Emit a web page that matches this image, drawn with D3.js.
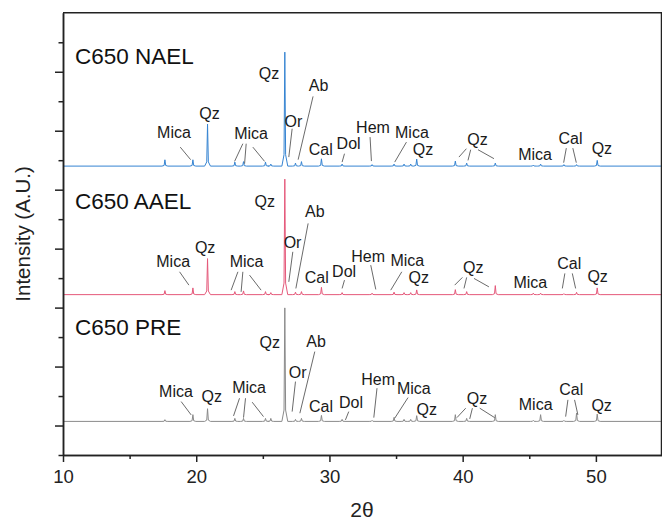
<!DOCTYPE html>
<html>
<head>
<meta charset="utf-8">
<script src="https://cdn.jsdelivr.net/npm/d3@7"></script>
<style>
  body { margin: 0; background: #fff; }
  svg { display: block; font-family: "Liberation Sans", Arial, sans-serif; }
</style>
</head>
<body>
<svg id="chart" width="662" height="520"></svg>
<script>
// --- data ----------------------------------------------------------------
var sampleNames = ["C650 NAEL", "C650 AAEL", "C650 PRE"];

// peak positions, 2-theta (deg)
var peakPos = [17.65, 19.75, 20.85, 22.9, 23.55, 25.2, 25.6, 26.65, 27.45, 27.9,
  29.4, 30.95, 33.2, 34.85, 35.6, 36.1, 36.55, 39.45, 40.3, 42.45,
  45.3, 45.85, 47.6, 48.55, 50.1];

// peak heights above each pattern's own background (counts, A.U.)
var naelHeights = [107, 107, 712, 68, 76, 68, 34, 1933, 51, 76,
  124, 34, 25, 34, 34, 34, 119, 85, 51, 51,
  17, 34, 25, 25, 97];
var aaelHeights = [68, 114, 611, 51, 63, 51, 34, 1959, 42, 51,
  124, 34, 25, 42, 34, 34, 80, 85, 51, 153,
  25, 25, 17, 39, 114];
var preHeights = [29, 114, 215, 51, 51, 51, 51, 1925, 34, 51,
  102, 34, 17, 68, 34, 34, 97, 114, 51, 114,
  17, 114, 17, 141, 124];

var xTicks = [10, 20, 30, 40, 50];

// phase labels: [text, 2theta of label centre, height of label above background,
//                leader lines [from 2theta, from height, to 2theta, to height]]
var naelLabels = [
  ["Mica", 18.33, 475, [[18.80, 322, 19.58, 109]]],
  ["Qz", 21.0, 792, []],
  ["Mica", 24.12, 465, [[23.5, 380, 22.88, 80], [23.75, 380, 23.63, 41], [24.25, 322, 25.13, 80]]],
  ["Qz", 25.47, 1482, []],
  ["Or", 27.3, 665, [[27.2, 634, 26.95, 153]]],
  ["Ab", 29.19, 1272, [[28.77, 1182, 27.65, 109]]],
  ["Cal", 29.35, 193, []],
  ["Dol", 31.44, 295, [[31.13, 210, 30.95, 68]]],
  ["Hem", 33.27, 566, [[33.05, 492, 33.15, 85]]],
  ["Mica", 36.19, 482, [[35.78, 407, 34.9, 68]]],
  ["Qz", 37.02, 181, []],
  ["Qz", 41.11, 363, [[40.28, 295, 39.72, 153], [40.6, 278, 40.4, 97], [41.15, 278, 42.35, 126]]],
  ["Mica", 45.44, 109, []],
  ["Cal", 48.1, 380, [[47.78, 305, 47.58, 58], [48.27, 305, 48.53, 58]]],
  ["Qz", 50.45, 210, []]
];
var aaelLabels = [
  ["Mica", 18.27, 471, [[18.75, 387, 19.45, 161]]],
  ["Qz", 20.67, 699, []],
  ["Mica", 23.78, 471, [[23.13, 387, 22.62, 76], [23.5, 387, 23.37, 47], [24.0, 331, 24.87, 76]]],
  ["Qz", 25.15, 1489, []],
  ["Or", 27.23, 784, [[27.25, 726, 26.95, 217]]],
  ["Ab", 28.9, 1319, [[28.4, 1208, 27.48, 105]]],
  ["Cal", 29.05, 190, []],
  ["Dol", 31.1, 302, [[31.13, 246, 30.95, 105]]],
  ["Hem", 32.9, 556, [[33.1, 500, 33.48, 88]]],
  ["Mica", 35.85, 483, [[35.43, 387, 34.6, 76]]],
  ["Qz", 36.7, 190, []],
  ["Qz", 40.8, 370, [[39.98, 292, 39.4, 161], [40.3, 292, 40.1, 105], [40.85, 275, 41.97, 132]]],
  ["Mica", 45.08, 105, []],
  ["Cal", 48.0, 427, [[47.67, 360, 47.48, 105], [48.23, 360, 48.48, 105]]],
  ["Qz", 50.13, 217, []]
];
var preLabels = [
  ["Mica", 18.48, 421, [[18.87, 336, 19.62, 110]]],
  ["Qz", 21.16, 336, []],
  ["Mica", 23.97, 478, [[23.25, 393, 22.8, 93], [23.7, 393, 23.55, 64], [24.2, 326, 25.05, 81]]],
  ["Qz", 25.52, 1241, []],
  ["Or", 27.62, 743, [[27.45, 675, 27.2, 166]]],
  ["Ab", 29.0, 1269, [[28.9, 1184, 27.78, 139]]],
  ["Cal", 29.37, 166, []],
  ["Dol", 31.62, 224, [[31.45, 166, 31.2, 25]]],
  ["Hem", 33.65, 619, [[33.57, 563, 33.33, 64]]],
  ["Mica", 36.33, 461, [[35.9, 404, 34.9, 54]]],
  ["Qz", 37.3, 110, []],
  ["Qz", 41.07, 292, [[40.23, 224, 39.57, 64], [40.73, 224, 40.53, 42], [41.28, 224, 42.4, 64]]],
  ["Mica", 45.48, 195, []],
  ["Cal", 48.15, 449, [[47.9, 365, 47.73, 81], [48.4, 365, 48.65, 110]]],
  ["Qz", 50.43, 178, []]
];

(function(){
  // --- layout / style ----------------------------------------------------
  var offsets = [4900, 2720, 570];           // vertical stacking of the patterns
  var nameHeights = [1737, 1445, 1467];      // sample name above its background
  var colors = ["#3584d2", "#e5587a", "#8a8a8a"];
  var peakShape = [[-0.22, 0], [-0.06, 0.1], [0, 1], [0.06, 0.1], [0.22, 0]];

  var series = [
    {name: sampleNames[0], h: naelHeights, labels: naelLabels},
    {name: sampleNames[1], h: aaelHeights, labels: aaelLabels},
    {name: sampleNames[2], h: preHeights, labels: preLabels}
  ];

  var svg = d3.select("#chart");
  var mLeft = 63, mRight = 662.5, mTop = 12.8, mBottom = 455;

  var x = d3.scaleLinear().domain([10, 55]).range([mLeft, mRight]);
  var y = d3.scaleLinear().domain([0, 7500]).range([mBottom, mTop]);

  // patterns
  var line = d3.line().x(function(d){ return x(d[0]); }).y(function(d){ return y(d[1]); });

  series.forEach(function(s, i){
    var pts = [[10, offsets[i]]];
    peakPos.forEach(function(p, k){
      peakShape.forEach(function(v){
        pts.push([p + v[0], offsets[i] + v[1]*s.h[k]]);
      });
    });
    pts.push([55, offsets[i]]);
    svg.append("path")
      .attr("d", line(pts))
      .attr("fill", "none")
      .attr("stroke", colors[i])
      .attr("stroke-width", 1)
      .attr("stroke-linejoin", "round");
  });

  // phase labels + leaders
  series.forEach(function(s, i){
    var g = svg.append("g");
    s.labels.forEach(function(l){
      g.append("text")
        .attr("x", x(l[1]))
        .attr("y", y(offsets[i] + l[2]))
        .attr("text-anchor", "middle")
        .attr("font-size", 16)
        .attr("fill", "#1a1a1a")
        .text(l[0]);
      l[3].forEach(function(ld){
        g.append("line")
          .attr("x1", x(ld[0])).attr("y1", y(offsets[i] + ld[1]))
          .attr("x2", x(ld[2])).attr("y2", y(offsets[i] + ld[3]))
          .attr("stroke", "#444").attr("stroke-width", 0.8);
      });
    });
    svg.append("text")
      .attr("x", x(10.9))
      .attr("y", y(offsets[i] + nameHeights[i]))
      .attr("font-size", 22.5)
      .attr("fill", "#111")
      .text(s.name);
  });

  // axes
  var xMajor = d3.axisBottom(x).tickValues(xTicks).tickSize(7).tickSizeOuter(0).tickPadding(8);
  var xMinor = d3.axisBottom(x).tickValues(d3.range(15, 55, 10)).tickSize(4).tickFormat("").tickSizeOuter(0);
  var yMajor = d3.axisLeft(y).tickValues(d3.range(500, 7000, 1000)).tickSize(8).tickFormat("").tickSizeOuter(0);
  var yMinor = d3.axisLeft(y).tickValues(d3.range(0, 7500, 1000)).tickSize(4.5).tickFormat("").tickSizeOuter(0);

  var gx = svg.append("g").attr("transform", "translate(0," + mBottom + ")").call(xMajor);
  svg.append("g").attr("transform", "translate(0," + mBottom + ")").call(xMinor);
  svg.append("g").attr("transform", "translate(" + mLeft + ",0)").call(yMajor);
  svg.append("g").attr("transform", "translate(" + mLeft + ",0)").call(yMinor);

  svg.selectAll(".domain, .tick line").attr("stroke", "#222").attr("stroke-width", 1.5);
  gx.attr("font-size", 18.5).attr("font-family", "'Liberation Sans', Arial, sans-serif");
  gx.selectAll("text").attr("fill", "#222");

  // frame on top and right
  svg.append("path")
    .attr("d", "M" + mLeft + "," + mTop + "H661.5V" + mBottom)
    .attr("fill", "none").attr("stroke", "#222").attr("stroke-width", 1.5);

  // axis titles
  svg.append("text")
    .attr("x", (mLeft + 661) / 2).attr("y", 517)
    .attr("text-anchor", "middle").attr("font-size", 21).attr("fill", "#222")
    .text("2θ");
  svg.append("text")
    .attr("transform", "translate(30," + (mTop + mBottom) / 2 + ") rotate(-90)")
    .attr("text-anchor", "middle").attr("font-size", 20.5).attr("fill", "#222")
    .text("Intensity (A.U.)");
})();
</script>
</body>
</html>
